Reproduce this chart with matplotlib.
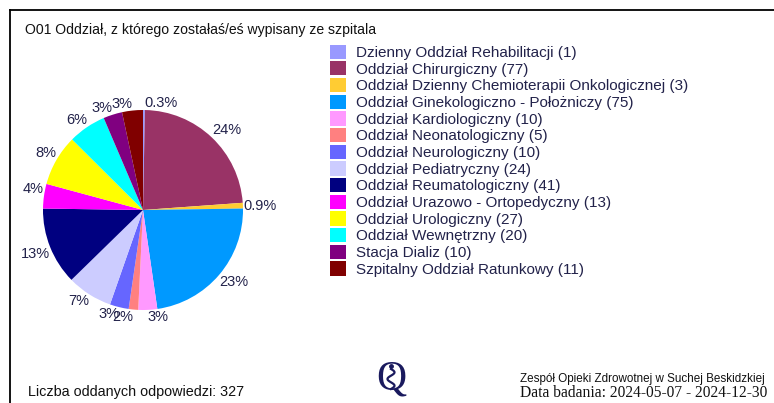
import numpy as np
import matplotlib.pyplot as plt
from matplotlib.lines import Line2D

departments = ['Dzienny Oddział Rehabilitacji', 'Oddział Chirurgiczny',
               'Oddział Dzienny Chemioterapii Onkologicznej',
               'Oddział Ginekologiczno - Położniczy', 'Oddział Kardiologiczny',
               'Oddział Neonatologiczny', 'Oddział Neurologiczny',
               'Oddział Pediatryczny', 'Oddział Reumatologiczny',
               'Oddział Urazowo - Ortopedyczny', 'Oddział Urologiczny',
               'Oddział Wewnętrzny', 'Stacja Dializ', 'Szpitalny Oddział Ratunkowy']
counts = [1, 77, 3, 75, 10, 5, 10, 24, 41, 13, 27, 20, 10, 11]
colors = ['#9999ff', '#993366', '#ffcc33', '#0099ff', '#ff99ff', '#ff8080',
          '#6666ff', '#ccccff', '#000080', '#ff00ff', '#ffff00', '#00ffff',
          '#800080', '#800000']

total = sum(counts)
txt_col = '#22224a'
plt.rcParams['font.family'] = ['Liberation Sans', 'DejaVu Sans']

W, H = 774, 403
fig = plt.figure(figsize=(W / 100, H / 100), dpi=100)

def pct(v):
    p = v / total * 100
    return '%.1f%%' % p if p < 1 else '%d%%' % round(p)

# pie, centre ~ (143, 210) px, radius ~ 100 px
ax = fig.add_axes([43 / W, (H - 310) / H, 200 / W, 200 / H])
wedges, texts = ax.pie(counts, colors=colors, startangle=90, counterclock=False,
                       labels=[pct(c) for c in counts], labeldistance=1.0,
                       wedgeprops=dict(linewidth=0),
                       textprops=dict(fontsize=10.5, color=txt_col))
# label box touches the circle: push it outward vertically too
for t in texts:
    y = t.get_position()[1]
    if y > 0.1:
        t.set_va('bottom')
    elif y < -0.1:
        t.set_va('top')
    else:
        t.set_va('center')
ax.set_xlim(-1, 1)
ax.set_ylim(-1, 1)
ax.set_aspect('equal')

fig.text(25 / W, 1 - 30 / H, 'O01 Oddział, z którego zostałaś/eś wypisany ze szpitala',
         fontsize=10.1, color='#111111', va='center')

fig.legend(wedges, ['%s (%d)' % (d, c) for d, c in zip(departments, counts)],
           loc='upper left', bbox_to_anchor=(322 / W, 1 - 37 / H), frameon=False,
           fontsize=11, labelcolor=txt_col, handlelength=1.05, handleheight=1.05,
           handletextpad=0.65, labelspacing=0.09, borderpad=0)

# frame lines
fig.add_artist(Line2D([10 / W, 1], [1 - 10 / H, 1 - 10 / H], color='black', lw=1.3))
fig.add_artist(Line2D([10 / W, 10 / W], [0, 1 - 10 / H], color='black', lw=1.3))

fig.text(28 / W, 1 - 392 / H, 'Liczba oddanych odpowiedzi: 327', fontsize=10.4,
         color='#111111', va='center')
fig.text(765 / W, 1 - 379 / H, 'Zespół Opieki Zdrowotnej w Suchej Beskidzkiej',
         fontsize=8.4, color='#111111', va='center', ha='right')
fig.text(767 / W, 1 - 393 / H, 'Data badania: 2024-05-07 - 2024-12-30',
         fontsize=11.2, family='Liberation Serif', color='#111111', va='center', ha='right')

# logo: serif Q with a small helix inside
fig.text(391 / W, 1 - 379 / H, 'Q', fontsize=30, family='Liberation Serif',
         color='#1a1a5e', ha='center', va='center')
t = np.linspace(0, 3 * np.pi, 60)
fig.add_artist(Line2D((391 + 3.5 * np.sin(t)) / W, 1 - (369 + 20 * t / t[-1]) / H,
                      color='#1a1a5e', lw=1.6))
fig.add_artist(Line2D([391 / W], [1 - 366 / H], marker='o', ms=2.5, color='#1a1a5e'))

fig.savefig('out.png', dpi=100, facecolor='white')
